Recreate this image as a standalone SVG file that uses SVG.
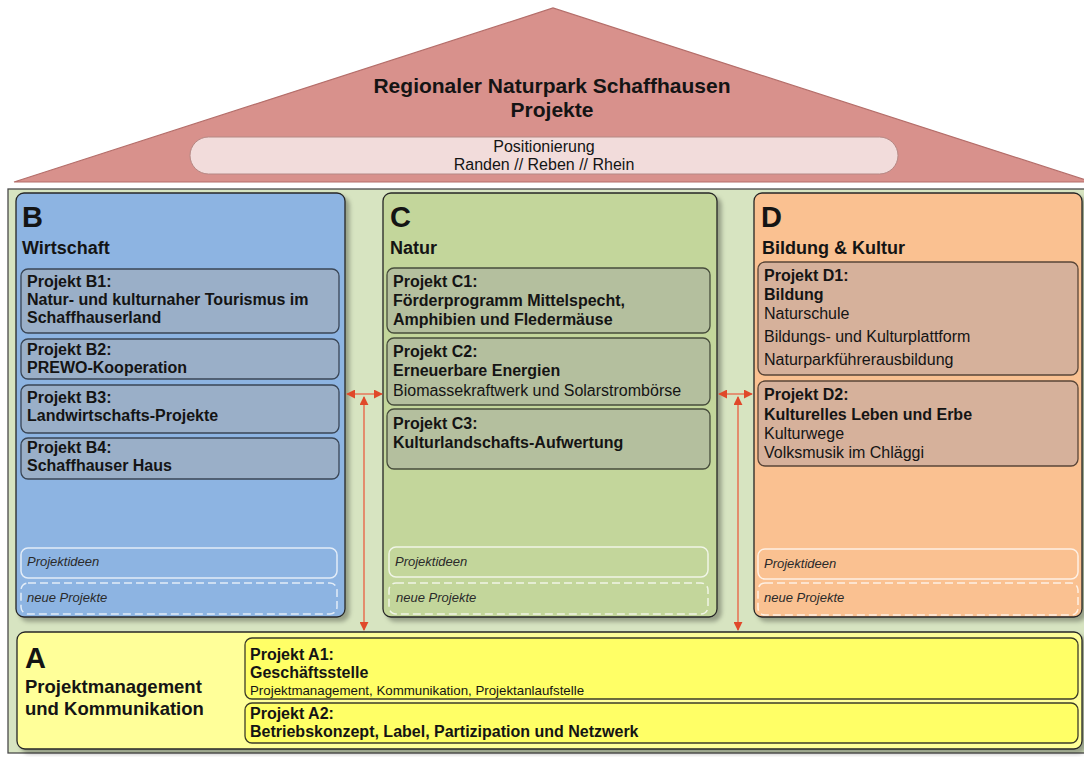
<svg xmlns="http://www.w3.org/2000/svg" width="1084" height="757" viewBox="0 0 1084 757">
<defs>
<filter id="sh" x="-5%" y="-5%" width="115%" height="115%">
<feDropShadow dx="4" dy="4" stdDeviation="2" flood-color="#000" flood-opacity="0.3"/>
</filter>
<marker id="ah" viewBox="0 0 10 10" refX="9" refY="5" markerWidth="9" markerHeight="9" markerUnits="userSpaceOnUse" orient="auto-start-reverse">
<path d="M0,0 L10,5 L0,10 z" fill="#e0482a"/>
</marker>
</defs>
<style>
text{font-family:"Liberation Sans",Arial,sans-serif;fill:#141414}
.big{font-size:29px;font-weight:bold}
.ct{font-size:18px;font-weight:bold}
.pb{font-size:16px;font-weight:bold}
.pr{font-size:16px}
.it{font-size:13px;font-style:italic;fill:#2a2a2a}
.col{stroke:#262626;stroke-width:1.3}
.pB{fill:#9aafc8;stroke:#3a4656;stroke-width:1.3}
.pC{fill:#b4bf9e;stroke:#474d3c;stroke-width:1.3}
.pD{fill:#d6b19b;stroke:#5a4638;stroke-width:1.3}
.pA{fill:#ffff66;stroke:#3c3c28;stroke-width:1.3}
.idea{fill:none;stroke:#ffffff;stroke-opacity:0.75;stroke-width:1.5}
.neu{fill:none;stroke:#ffffff;stroke-opacity:0.75;stroke-width:1.5;stroke-dasharray:8 4}
.arr{stroke:#e67658;stroke-width:1.6;fill:none;marker-start:url(#ah);marker-end:url(#ah)}
</style>
<rect width="1084" height="757" fill="#ffffff"/>

<g id="roof">
<polygon points="14,182 553,8 1092,182" fill="#d8918c" stroke="#b46e6a" stroke-width="1.2"/>
<text x="552" y="93" text-anchor="middle" style="font-size:21px;font-weight:bold">Regionaler Naturpark Schaffhausen</text>
<text x="552" y="117" text-anchor="middle" style="font-size:21px;font-weight:bold">Projekte</text>
</g>
<g id="positionierung">
<rect x="190" y="137" width="708" height="37" rx="18.5" fill="#f2dcdb" stroke="#b58884" stroke-width="1"/>
<text x="544" y="152" text-anchor="middle" style="font-size:16px">Positionierung</text>
<text x="544" y="170" text-anchor="middle" style="font-size:16px">Randen // Reben // Rhein</text>
</g>

<g id="body">
<rect x="8" y="189" width="1090" height="564" fill="#d7e4c1" stroke="#4a4a4a" stroke-width="1.3"/>
</g>

<g id="colB">
<rect x="16" y="193" width="329" height="424" rx="8" fill="#8db4e2" class="col" filter="url(#sh)"/>
<text x="22" y="227" class="big">B</text>
<text x="22" y="254" class="ct">Wirtschaft</text>
<g id="B1"><rect x="21" y="269" width="318" height="64" rx="7" class="pB"/>
<text x="27" y="287" class="pb">Projekt B1:</text>
<text x="27" y="305" class="pb">Natur- und kulturnaher Tourismus im</text>
<text x="27" y="323" class="pb">Schaffhauserland</text></g>
<g id="B2"><rect x="21" y="339" width="318" height="40" rx="7" class="pB"/>
<text x="27" y="355" class="pb">Projekt B2:</text>
<text x="27" y="373" class="pb">PREWO-Kooperation</text></g>
<g id="B3"><rect x="21" y="385" width="318" height="48" rx="7" class="pB"/>
<text x="27" y="403" class="pb">Projekt B3:</text>
<text x="27" y="421" class="pb">Landwirtschafts-Projekte</text></g>
<g id="B4"><rect x="21" y="438" width="318" height="41" rx="7" class="pB"/>
<text x="27" y="453" class="pb">Projekt B4:</text>
<text x="27" y="471" class="pb">Schaffhauser Haus</text></g>
<rect x="21" y="548" width="316" height="30" rx="7" class="idea"/>
<text x="27" y="566" class="it">Projektideen</text>
<rect x="21" y="583" width="316" height="31" rx="7" class="neu"/>
<text x="27" y="602" class="it">neue Projekte</text>
</g>

<g id="colC">
<rect x="383" y="193" width="334" height="424" rx="8" fill="#c3d69b" class="col" filter="url(#sh)"/>
<text x="390" y="227" class="big">C</text>
<text x="390" y="254" class="ct">Natur</text>
<g id="C1"><rect x="387" y="268" width="323" height="65" rx="7" class="pC"/>
<text x="393" y="287" class="pb">Projekt C1:</text>
<text x="393" y="306" class="pb">Förderprogramm Mittelspecht,</text>
<text x="393" y="325" class="pb">Amphibien und Fledermäuse</text></g>
<g id="C2"><rect x="387" y="338" width="323" height="67" rx="7" class="pC"/>
<text x="393" y="357" class="pb">Projekt C2:</text>
<text x="393" y="376" class="pb">Erneuerbare Energien</text>
<text x="393" y="396" class="pr">Biomassekraftwerk und Solarstrombörse</text></g>
<g id="C3"><rect x="387" y="409" width="323" height="60" rx="7" class="pC"/>
<text x="393" y="429" class="pb">Projekt C3:</text>
<text x="393" y="448" class="pb">Kulturlandschafts-Aufwertung</text></g>
<rect x="389" y="547" width="319" height="30" rx="7" class="idea"/>
<text x="395" y="566" class="it">Projektideen</text>
<rect x="389" y="583" width="319" height="31" rx="7" class="neu"/>
<text x="396" y="602" class="it">neue Projekte</text>
</g>

<g id="colD">
<rect x="754" y="193" width="328" height="424" rx="8" fill="#fac191" class="col" filter="url(#sh)"/>
<text x="761" y="227" class="big">D</text>
<text x="762" y="254" class="ct">Bildung &amp; Kultur</text>
<g id="D1"><rect x="758" y="262" width="320" height="113" rx="7" class="pD"/>
<text x="764" y="281" class="pb">Projekt D1:</text>
<text x="764" y="300" class="pb">Bildung</text>
<text x="764" y="319" class="pr">Naturschule</text>
<text x="764" y="342" class="pr">Bildungs- und Kulturplattform</text>
<text x="764" y="365" class="pr">Naturparkführerausbildung</text></g>
<g id="D2"><rect x="758" y="381" width="320" height="85" rx="7" class="pD"/>
<text x="764" y="400" class="pb">Projekt D2:</text>
<text x="764" y="420" class="pb">Kulturelles Leben und Erbe</text>
<text x="764" y="439" class="pr">Kulturwege</text>
<text x="764" y="458" class="pr">Volksmusik im Chläggi</text></g>
<rect x="758" y="549" width="320" height="30" rx="7" class="idea"/>
<text x="764" y="568" class="it">Projektideen</text>
<rect x="758" y="583" width="320" height="32" rx="7" class="neu"/>
<text x="764" y="602" class="it">neue Projekte</text>
</g>

<g id="colA">
<rect x="17" y="632" width="1065" height="117" rx="8" fill="#ffff99" class="col" filter="url(#sh)"/>
<text x="25" y="668" class="big">A</text>
<text x="25" y="693" style="font-size:18.5px;font-weight:bold">Projektmanagement</text>
<text x="25" y="715" style="font-size:18.5px;font-weight:bold">und Kommunikation</text>
<g id="A1"><rect x="245" y="638" width="833" height="61" rx="7" class="pA"/>
<text x="250" y="660" class="pb">Projekt A1:</text>
<text x="250" y="678" class="pb">Geschäftsstelle</text>
<text x="250" y="695" style="font-size:13.3px">Projektmanagement, Kommunikation, Projektanlaufstelle</text></g>
<g id="A2"><rect x="245" y="703" width="833" height="40" rx="7" class="pA"/>
<text x="250" y="719" class="pb">Projekt A2:</text>
<text x="250" y="737" class="pb">Betriebskonzept, Label, Partizipation und Netzwerk</text></g>
</g>

<g id="connectors">
<line x1="347" y1="394" x2="382" y2="394" class="arr"/>
<line x1="364" y1="397" x2="364" y2="630" class="arr"/>
<line x1="719" y1="394" x2="752" y2="394" class="arr"/>
<line x1="738" y1="397" x2="738" y2="630" class="arr"/>
</g>
</svg>
